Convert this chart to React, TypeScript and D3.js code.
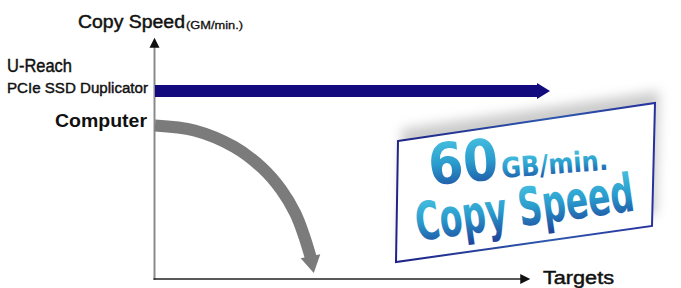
import React from "react";
import * as d3 from "d3";

// Series and labels
const seriesNames = ["U-Reach PCIe SSD Duplicator", "Computer"];
const duplicatorLabel = ["U-Reach", "PCIe SSD Duplicator"];
const computerLabel = "Computer";
const yTitle = "Copy Speed";
const yUnit = "(GM/min.)";
const xTitle = "Targets";

const targetsDomain = [0, 100];
const speedDomain = [0, 60];
const axisEnds = { targets: 95, speed: 77 };

const duplicatorTargets = [0, 100];
const duplicatorSpeed = [60, 60];

// last point is the arrow tip
const computerTargets = [0, 10, 20, 27, 32, 35.5, 37.6, 39.4, 40.2];
const computerSpeed = [49, 47.4, 42.2, 35.6, 28.4, 21.0, 14.3, 7.0, 1.9];

const badgeValue = "60";
const badgeUnit = "GB/min.";
const badgeCaption = "Copy Speed";

const W = 681;
const H = 288;

const App = () => {
  const x = d3.scaleLinear().domain(targetsDomain).range([155, 550]);
  const y = d3.scaleLinear().domain(speedDomain).range([279, 91]);

  const x0 = x(0) - 0.5;
  const y0 = y(0);

  // blue duplicator arrow
  const dupPts = duplicatorTargets.map((t, i) => [x(t), y(duplicatorSpeed[i])]);
  const headLen = 13;
  const barHalf = 6;
  const headHalf = 8;
  const [bx0, by] = dupPts[0];
  const bx1 = dupPts[dupPts.length - 1][0];
  const dupPath = [
    [bx0, by - barHalf],
    [bx1 - headLen, by - barHalf],
    [bx1 - headLen, by - headHalf],
    [bx1, by],
    [bx1 - headLen, by + headHalf],
    [bx1 - headLen, by + barHalf],
    [bx0, by + barHalf],
  ];

  // grey computer curve
  const compPts = computerTargets.map((t, i) => [x(t), y(computerSpeed[i])] as [number, number]);
  const shaft = compPts.slice(0, -1);
  const tip = compPts[compPts.length - 1];
  const base = shaft[shaft.length - 1];
  const line = d3.line().curve(d3.curveCatmullRom.alpha(0.5));
  const dx = tip[0] - base[0];
  const dy = tip[1] - base[1];
  const len = Math.hypot(dx, dy);
  const nx = -dy / len;
  const ny = dx / len;
  const hw = 10;
  const compHead = [
    [base[0] + nx * hw - dx * 0.05, base[1] + ny * hw - dy * 0.05],
    tip,
    [base[0] - nx * hw - dx * 0.05, base[1] - ny * hw - dy * 0.05],
  ];

  const poly = (p: number[][]) => "M" + p.map((d) => d.join(",")).join("L") + "Z";

  const badge = [
    [398, 141],
    [655, 103],
    [652, 226],
    [396, 262],
  ];

  const labelFont = "'Liberation Sans Narrow', 'Liberation Sans', Arial, sans-serif";
  const badgeFont = "'DejaVu Sans', 'Liberation Sans', sans-serif";
  const medium = { stroke: "#111", strokeWidth: 0.45 };

  return (
    <svg
      width={W}
      height={H}
      style={{ position: "absolute", left: 0, top: 0, background: "#fff" }}
    >
      <defs>
        <linearGradient id="badgeText" x1="0" y1="0" x2="0" y2="1">
          <stop offset="0" stopColor="#4fcbe6" />
          <stop offset="0.5" stopColor="#2a9ccd" />
          <stop offset="1" stopColor="#1d3f98" />
        </linearGradient>
        <linearGradient id="badgeEdge" x1="0" y1="0" x2="1" y2="0">
          <stop offset="0" stopColor="#1f2385" />
          <stop offset="0.6" stopColor="#2c58ae" />
          <stop offset="1" stopColor="#28309b" />
        </linearGradient>
        <filter id="shadow" x="-20%" y="-40%" width="140%" height="180%">
          <feGaussianBlur stdDeviation="6" />
        </filter>
      </defs>

      {/* y axis */}
      <line x1={x0} x2={x0} y1={y0 + 1} y2={y(axisEnds.speed) + 9} stroke="#8a8a8a" strokeWidth={2} />
      <path
        d={poly([
          [x0 - 5, y(axisEnds.speed) + 10],
          [x0, y(axisEnds.speed)],
          [x0 + 5, y(axisEnds.speed) + 10],
        ])}
        fill="#111"
      />
      {/* x axis */}
      <line x1={x0 - 1} x2={x(axisEnds.targets) - 9} y1={y0} y2={y0} stroke="#222" strokeWidth={1.5} />
      <path
        d={poly([
          [x(axisEnds.targets) - 10, y0 - 5],
          [x(axisEnds.targets), y0],
          [x(axisEnds.targets) - 10, y0 + 5],
        ])}
        fill="#111"
      />

      {/* axis titles */}
      <text x={78} y={28} fontFamily={labelFont} fontSize={18} textLength={107} lengthAdjust="spacingAndGlyphs" fill="#111" {...medium}>
        {yTitle}
      </text>
      <text x={186} y={28.5} fontFamily={labelFont} fontSize={10.5} textLength={57} lengthAdjust="spacingAndGlyphs" fill="#111" {...medium} strokeWidth={0.3}>
        {yUnit}
      </text>
      <text x={543} y={284} fontFamily={labelFont} fontSize={18} textLength={71} lengthAdjust="spacingAndGlyphs" fill="#111" {...medium}>
        {xTitle}
      </text>

      {/* series labels */}
      <g aria-label={seriesNames[0]}>
        <text x={7} y={72} fontFamily={labelFont} fontSize={18} textLength={65} lengthAdjust="spacingAndGlyphs" fill="#111" {...medium}>
          {duplicatorLabel[0]}
        </text>
        <text x={7} y={93} fontFamily={labelFont} fontSize={15.5} textLength={141} lengthAdjust="spacingAndGlyphs" fill="#111" {...medium}>
          {duplicatorLabel[1]}
        </text>
      </g>
      <text
        aria-label={seriesNames[1]}
        x={55}
        y={127}
        fontFamily={labelFont}
        fontWeight="bold"
        fontSize={18}
        textLength={92}
        lengthAdjust="spacingAndGlyphs"
        fill="#111"
      >
        {computerLabel}
      </text>

      {/* series marks */}
      <path d={poly(dupPath)} fill="#130b7d" />
      <path d={line(shaft) ?? ""} fill="none" stroke="#7b7b7b" strokeWidth={12} />
      <path d={poly(compHead)} fill="#7b7b7b" />

      {/* badge */}
      <path
        d={poly(badge)}
        transform="translate(4,-12)"
        fill="#a8a8a8"
        opacity={0.6}
        filter="url(#shadow)"
      />
      <path d={poly(badge)} fill="#fff" stroke="url(#badgeEdge)" strokeWidth={2} />
      <text
        x={430}
        y={185}
        transform="rotate(-5,430,185)"
        fontFamily={badgeFont}
        fontWeight="bold"
        fontSize={57}
        textLength={70}
        lengthAdjust="spacingAndGlyphs"
        fill="url(#badgeText)"
      >
        {badgeValue}
      </text>
      <text
        x={502}
        y={178}
        transform="rotate(-4.5,502,178)"
        fontFamily={badgeFont}
        fontWeight="bold"
        fontSize={28}
        textLength={107}
        lengthAdjust="spacingAndGlyphs"
        fill="url(#badgeText)"
      >
        {badgeUnit}
      </text>
      <text
        x={418}
        y={241}
        transform="rotate(-8,418,241)"
        fontFamily={badgeFont}
        fontWeight="bold"
        fontSize={53}
        textLength={220}
        lengthAdjust="spacingAndGlyphs"
        fill="url(#badgeText)"
      >
        {badgeCaption}
      </text>
    </svg>
  );
};

export default App;
